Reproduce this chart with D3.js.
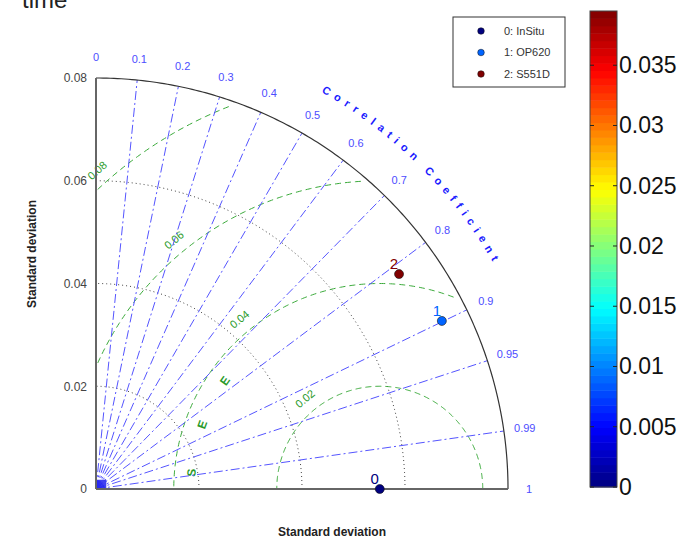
<!DOCTYPE html>
<html>
<head>
<meta charset="utf-8">
<script src="https://cdn.jsdelivr.net/npm/d3@7"></script>
<style>
  body { margin: 0; background: #fff; }
  text { font-family: "Liberation Sans", Arial, sans-serif; }
</style>
</head>
<body>
<div id="chart"></div>
<script>
// Data
const names = ["0: InSitu", "1: OP620", "2: S551D"];
const pointLabels = ["0", "1", "2"];
const stdValues = [0.0551, 0.0747, 0.0722];
const corrValues = [1.0, 0.899, 0.815];
const colorValues = [0, 0.0088, 0.0395];

const stdTicks = [0, 0.02, 0.04, 0.06, 0.08];
const stdGrid = [0.02, 0.04, 0.06];
const corrTicks = [0, 0.1, 0.2, 0.3, 0.4, 0.5, 0.6, 0.7, 0.8, 0.9, 0.95, 0.99, 1];
const corrLines = [0.1, 0.2, 0.3, 0.4, 0.5, 0.6, 0.7, 0.8, 0.9, 0.95, 0.99];
const rmsLevels = [0.02, 0.04, 0.06, 0.08];
const rmsLetters = ["S", "E", "E"];
const rmsLetterAngles = [175, 160, 145];
const cbarTicks = [0, 0.005, 0.01, 0.015, 0.02, 0.025, 0.03, 0.035];
const cbarMax = 0.0395;

const W = 692, H = 539;
const maxStd = 0.08;

const svg = d3.select("#chart").append("svg")
  .attr("width", W)
  .attr("height", H);

// Scales
const x = d3.scaleLinear().domain([0, maxStd]).range([96, 508]);
const y = d3.scaleLinear().domain([0, maxStd]).range([489, 78]);

// jet colormap
function jet(t) {
  const c = (v) => Math.max(0, Math.min(1, v));
  const r = c(1.5 - Math.abs(4 * t - 3));
  const g = c(1.5 - Math.abs(4 * t - 2));
  const b = c(1.5 - Math.abs(4 * t - 1));
  return d3.rgb(r * 255, g * 255, b * 255).formatHex();
}
const colorScale = (v) => jet(v / cbarMax);

const polar = (r, deg) => [x(r * Math.cos(deg * Math.PI / 180)), y(r * Math.sin(deg * Math.PI / 180))];

// title (cut off at top)
svg.append("text")
  .attr("x", 22).attr("y", 8)
  .style("font-size", "24px").style("fill", "#222")
  .text("time");

// std dev dotted arcs
const arcLine = d3.line();
stdGrid.forEach((s) => {
  const pts = d3.range(0, 90.5, 1).map((a) => polar(s, a));
  svg.append("path")
    .attr("d", arcLine(pts))
    .attr("fill", "none")
    .attr("stroke", "#444")
    .attr("stroke-width", 1)
    .attr("stroke-dasharray", "1,3");
});

// RMS arcs (green dashed) centred on the reference
const ref = stdValues[0];
const clipR = 0.079;
rmsLevels.forEach((rms) => {
  const pts = d3.range(0, 180.1, 0.5)
    .map((a) => [ref + rms * Math.cos(a * Math.PI / 180), rms * Math.sin(a * Math.PI / 180)])
    .filter((p) => p[0] >= 0 && Math.hypot(p[0], p[1]) <= clipR)
    .map((p) => [x(p[0]), y(p[1])]);
  svg.append("path")
    .attr("d", arcLine(pts))
    .attr("fill", "none")
    .attr("stroke", "#3aaa3a")
    .attr("stroke-width", 1)
    .attr("stroke-dasharray", "6,4");

  const ang = rms > 0.07 ? 131.5 : 129.5;
  const lx = ref + (rms + 0.0028) * Math.cos(ang * Math.PI / 180);
  const ly = (rms + 0.0028) * Math.sin(ang * Math.PI / 180);
  svg.append("text")
    .attr("transform", `translate(${x(lx)},${y(ly)}) rotate(${-(ang - 90)})`)
    .attr("text-anchor", "middle")
    .attr("dy", "0.35em")
    .style("font-size", "11px")
    .style("fill", "#2a9a2a")
    .text(d3.format(".2f")(rms));
});

// RMSE letters along an inner arc
rmsLetters.forEach((ch, i) => {
  const a = rmsLetterAngles[i];
  const rr = 0.0367;
  const lx = ref + rr * Math.cos(a * Math.PI / 180);
  const ly = rr * Math.sin(a * Math.PI / 180);
  svg.append("text")
    .attr("transform", `translate(${x(lx)},${y(ly)}) rotate(${-(a - 90)})`)
    .attr("text-anchor", "middle")
    .attr("dy", "0.35em")
    .style("font-size", "12px")
    .style("font-weight", "bold")
    .style("fill", "#2a9a2a")
    .text(ch);
});

// correlation rays (blue dash-dot)
corrLines.forEach((c) => {
  const a = Math.acos(c) * 180 / Math.PI;
  const [x1, y1] = polar(maxStd, a);
  svg.append("line")
    .attr("x1", x(0)).attr("y1", y(0))
    .attr("x2", x1).attr("y2", y1)
    .attr("stroke", "#5555ff")
    .attr("stroke-width", 1)
    .attr("stroke-dasharray", "9,3,2,3");
});
// dense blob where the rays meet
svg.append("rect")
  .attr("x", x(0)).attr("y", y(0.0018))
  .attr("width", x(0.002) - x(0)).attr("height", y(0) - y(0.0018))
  .attr("fill", "#2020ee").attr("opacity", 0.85);

// correlation tick labels
corrTicks.forEach((c) => {
  const a = Math.acos(c) * 180 / Math.PI;
  const [lx, ly] = polar(0.0841, a);
  svg.append("text")
    .attr("x", lx).attr("y", ly)
    .attr("text-anchor", "middle")
    .attr("dy", "0.35em")
    .style("font-size", "11px")
    .style("fill", "#4d4dff")
    .text(String(c));
});

// "Correlation Coefficient" along the arc
const rT = 0.0888;
const tPts = d3.range(60.5, 18, -0.5).map((a) => polar(rT, a));
svg.append("path")
  .attr("id", "corrArc")
  .attr("d", arcLine(tPts))
  .attr("fill", "none");
svg.append("text")
  .style("font-size", "11px")
  .style("font-weight", "bold")
  .style("letter-spacing", "5.7px")
  .style("fill", "#1a1aff")
  .append("textPath")
  .attr("href", "#corrArc")
  .text("Correlation Coefficient");

// frame: axes and outer arc
svg.append("path")
  .attr("d", arcLine(d3.range(0, 90.1, 0.5).map((a) => polar(maxStd, a))))
  .attr("fill", "none")
  .attr("stroke", "#333")
  .attr("stroke-width", 1.2);
svg.append("line")
  .attr("x1", x(0)).attr("y1", y(0)).attr("x2", x(maxStd)).attr("y2", y(0))
  .attr("stroke", "#666").attr("stroke-width", 2);
svg.append("line")
  .attr("x1", x(0)).attr("y1", y(0)).attr("x2", x(0)).attr("y2", y(maxStd))
  .attr("stroke", "#666").attr("stroke-width", 2);

// y axis ticks
const yAxis = svg.append("g")
  .attr("transform", `translate(${x(0) - 6},0)`)
  .call(d3.axisLeft(y).tickValues(stdTicks).tickSize(0)
    .tickFormat((d) => (d === 0 ? "0" : d3.format(".2f")(d))));
yAxis.select(".domain").remove();
yAxis.selectAll("text")
  .style("font-family", "'Liberation Sans', Arial, sans-serif")
  .style("font-size", "12px")
  .style("fill", "#444");

// axis labels
svg.append("text")
  .attr("transform", `translate(36,254) rotate(-90)`)
  .attr("text-anchor", "middle")
  .style("font-size", "12px")
  .style("font-weight", "bold")
  .style("fill", "#222")
  .text("Standard deviation");
svg.append("text")
  .attr("x", 332).attr("y", 536)
  .attr("text-anchor", "middle")
  .style("font-size", "12px")
  .style("font-weight", "bold")
  .style("fill", "#222")
  .text("Standard deviation");

// data points
stdValues.forEach((s, i) => {
  const a = Math.acos(corrValues[i]) * 180 / Math.PI;
  const [px, py] = polar(s, a);
  svg.append("circle")
    .attr("cx", px).attr("cy", py).attr("r", 4.5)
    .attr("fill", colorScale(colorValues[i]))
    .attr("stroke", "#111").attr("stroke-width", 0.6);
  svg.append("text")
    .attr("x", px - 5).attr("y", py - 5)
    .attr("text-anchor", "middle")
    .style("font-size", "15px")
    .style("fill", colorScale(colorValues[i]))
    .text(pointLabels[i]);
});

// legend
const lg = svg.append("g").attr("transform", "translate(453,17)");
lg.append("rect")
  .attr("width", 112).attr("height", 70)
  .attr("fill", "#fff").attr("stroke", "#333").attr("stroke-width", 1);
names.forEach((n, i) => {
  const yy = 14 + i * 21.5;
  lg.append("circle")
    .attr("cx", 28).attr("cy", yy).attr("r", 3.3)
    .attr("fill", colorScale(colorValues[i]))
    .attr("stroke", "#111").attr("stroke-width", 0.5);
  lg.append("text")
    .attr("x", 51).attr("y", yy)
    .attr("dy", "0.35em")
    .style("font-size", "11px")
    .style("fill", "#333")
    .text(n);
});

// colorbar
const cb = d3.scaleLinear().domain([0, cbarMax]).range([487, 11]);
const cbX = 590, cbW = 27, nSteps = 64;
d3.range(nSteps).forEach((k) => {
  const v0 = (k / nSteps) * cbarMax, v1 = ((k + 1) / nSteps) * cbarMax;
  svg.append("rect")
    .attr("x", cbX).attr("y", cb(v1))
    .attr("width", cbW).attr("height", cb(v0) - cb(v1) + 0.5)
    .attr("fill", jet((k + 0.5) / nSteps));
});
svg.append("rect")
  .attr("x", cbX).attr("y", cb(cbarMax))
  .attr("width", cbW).attr("height", cb(0) - cb(cbarMax))
  .attr("fill", "none").attr("stroke", "#444").attr("stroke-width", 1);
cbarTicks.forEach((t) => {
  svg.append("line")
    .attr("x1", cbX).attr("x2", cbX + 4).attr("y1", cb(t)).attr("y2", cb(t))
    .attr("stroke", "#222");
  svg.append("line")
    .attr("x1", cbX + cbW - 4).attr("x2", cbX + cbW).attr("y1", cb(t)).attr("y2", cb(t))
    .attr("stroke", "#222");
});
const cAxis = svg.append("g")
  .attr("transform", `translate(${cbX + cbW},0)`)
  .call(d3.axisRight(cb).tickValues(cbarTicks).tickSize(0).tickPadding(2)
    .tickFormat((d) => (d === 0 ? "0" : String(+d.toFixed(3)))));
cAxis.select(".domain").remove();
cAxis.selectAll("text")
  .style("font-family", "'Liberation Sans', Arial, sans-serif")
  .style("font-size", "23px")
  .style("fill", "#111");
</script>
</body>
</html>
